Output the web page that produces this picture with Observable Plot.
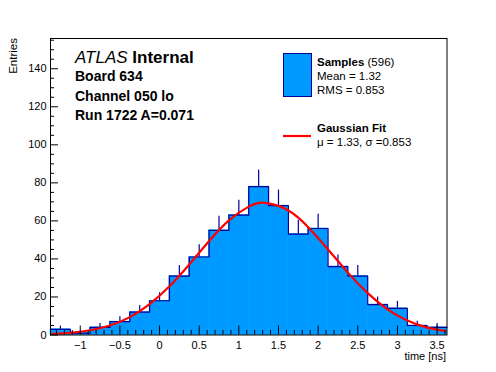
<!DOCTYPE html>
<html><head><meta charset="utf-8">
<script src="https://cdn.jsdelivr.net/npm/d3@7"></script>
<script src="https://cdn.jsdelivr.net/npm/@observablehq/plot@0.6"></script>
<style>
body{margin:0;background:#fff;}
#wrap{position:relative;width:496px;height:372px;}
</style></head><body><div id="wrap"></div>
<script>
// ---- data ----
const binLow  = [-1.375,-1.125,-0.875,-0.625,-0.375,-0.125,0.125,0.375,0.625,0.875,1.125,1.375,1.625,1.875,2.125,2.375,2.625,2.875,3.125,3.375];
const binHigh = [-1.125,-0.875,-0.625,-0.375,-0.125,0.125,0.375,0.625,0.875,1.125,1.375,1.625,1.875,2.125,2.375,2.625,2.875,3.125,3.375,3.625];
const binCenter = [-1.25,-1,-0.75,-0.5,-0.25,0,0.25,0.5,0.75,1,1.25,1.5,1.75,2,2.25,2.5,2.75,3,3.25,3.5];
const counts  = [3,1,4,7,12,18,31,41,55,63,78,68,53,56,36,31,16,14,5,4];
const errUp   = [1.7,1.0,2.0,2.6,3.5,4.2,5.6,6.4,7.4,7.9,8.8,8.2,7.3,7.5,6.0,5.6,4.0,3.7,2.2,2.0];
// Gaussian fit curve values
const fitX = [-1.35,-1.125,-0.875,-0.625,-0.375,-0.125,0.125,0.375,0.625,0.875,1.125,1.33,1.625,1.875,2.125,2.375,2.625,2.875,3.125,3.375,3.6];
const fitY = [0.6,1.1,2.5,5.0,9.4,16.2,25.6,37.1,49.4,60.3,67.5,69.5,65.5,56.7,45.0,32.8,22.0,13.5,7.6,3.9,2.2];
const xTicks = [-1,-0.5,0,0.5,1,1.5,2,2.5,3,3.5];
const xTickLabels = ["\u22121","\u22120.5","0","0.5","1","1.5","2","2.5","3","3.5"];
const yTicks = [0,20,40,60,80,100,120,140];
const yTickLabels = ["0","20","40","60","80","100","120","140"];
const xMinor = [-1.3,-1.2,-1.1,-0.9,-0.8,-0.7,-0.6,-0.4,-0.3,-0.2,-0.1,0.1,0.2,0.3,0.4,0.6,0.7,0.8,0.9,1.1,1.2,1.3,1.4,1.6,1.7,1.8,1.9,2.1,2.2,2.3,2.4,2.6,2.7,2.8,2.9,3.1,3.2,3.3,3.4,3.6];
const yMinor = [5,10,15,25,30,35,45,50,55,65,70,75,85,90,95,105,110,115,125,130,135,145,150,155];

// ---- layout ----
const W = 496, H = 372, mL = 50, mR = 49.5, mT = 38, mB = 37.5;
const innerW = W - mL - mR, innerH = H - mT - mB;
const FILL = "#0099ff", EDGE = "#000099";

const bins = counts.map((c, i) => ({x1: binLow[i], x2: binHigh[i], xc: binCenter[i], n: c, e: errUp[i]}));
const outline = bins.flatMap(b => [{x: b.x1, y: b.n}, {x: b.x2, y: b.n}]);
const fit = fitX.map((x, i) => ({x, y: fitY[i]}));

const chart = Plot.plot({
  width: W, height: H,
  marginLeft: mL, marginRight: mR, marginTop: mT, marginBottom: mB,
  style: {fontFamily: "'Liberation Sans', Arial, sans-serif", fontSize: "11px", color: "#000", background: "#fff"},
  x: {domain: [-1.375, 3.625]},
  y: {domain: [0, 155.9]},
  marks: [
    Plot.rectY(bins, {x1: "x1", x2: "x2", y: "n", fill: FILL, stroke: FILL, strokeWidth: 0.6}),
    Plot.ruleX(bins, {x: "xc", y1: "n", y2: d => d.n + d.e, stroke: EDGE, strokeWidth: 1.2}),
    Plot.line(outline, {x: "x", y: "y", stroke: EDGE, strokeWidth: 1.2}),
    Plot.line(fit, {x: "x", y: "y", stroke: "#ff0000", strokeWidth: 2.2, curve: "natural"}),
    Plot.ruleX(xTicks, {x: d => d, insetTop: innerH - 9, stroke: "#000"}),
    Plot.ruleX(xMinor, {x: d => d, insetTop: innerH - 4.5, stroke: "#000"}),
    Plot.ruleY(yTicks, {y: d => d, insetRight: innerW - 8, stroke: "#000"}),
    Plot.ruleY(yMinor, {y: d => d, insetRight: innerW - 4, stroke: "#000"}),
    Plot.axisX(xTicks, {tickSize: 0, tickPadding: 6, label: null, fontSize: 11, tickFormat: (d) => xTickLabels[xTicks.indexOf(d)]}),
    Plot.axisY(yTicks, {tickSize: 0, tickPadding: 4, label: null, fontSize: 11, tickFormat: (d) => yTickLabels[yTicks.indexOf(d)]}),
    Plot.frame({stroke: "#000"})
  ]
});
document.getElementById("wrap").appendChild(chart);

// ---- annotations (text overlay inside the same svg) ----
const svg = d3.select(chart);
const g = svg.append("g").attr("font-family", "'Liberation Sans', Arial, sans-serif").attr("fill", "#000");
function txt(x, y, parts, size, anchor) {
  const t = g.append("text").attr("x", x).attr("y", y).attr("font-size", size).attr("text-anchor", anchor || "start");
  parts.forEach(p => t.append("tspan").text(p.s).attr("font-weight", p.b ? "bold" : "normal").attr("font-style", p.i ? "italic" : "normal"));
  return t;
}
// axis titles
txt(446, 360, [{s: "time [ns]"}], 11, "end");
g.append("text").attr("transform", "translate(16.5,38) rotate(-90)").attr("text-anchor", "end")
  .attr("font-size", 11.5).text("Entries");
// ATLAS block
txt(75, 63, [{s: "ATLAS", i: true}, {s: " Internal", b: true}], 17);
txt(75, 81, [{s: "Board 634", b: true}], 14);
txt(75, 101, [{s: "Channel 050 lo", b: true}], 14);
txt(75, 120, [{s: "Run 1722 A=0.071", b: true}], 14);
// legend
g.append("rect").attr("x", 283.5).attr("y", 53.5).attr("width", 28).attr("height", 43).attr("fill", FILL).attr("stroke", EDGE).attr("stroke-width", 1);
txt(317, 66, [{s: "Samples", b: true}, {s: " (596)"}], 11.5);
txt(317, 80, [{s: "Mean = 1.32"}], 11.5);
txt(317, 94, [{s: "RMS = 0.853"}], 11.5);
g.append("line").attr("x1", 283).attr("x2", 311).attr("y1", 136).attr("y2", 136).attr("stroke", "#ff0000").attr("stroke-width", 2.2);
txt(317, 132, [{s: "Gaussian Fit", b: true}], 11.5);
txt(317, 146, [{s: "\u03bc = 1.33, \u03c3 =0.853"}], 11.5);
</script>
</body></html>
